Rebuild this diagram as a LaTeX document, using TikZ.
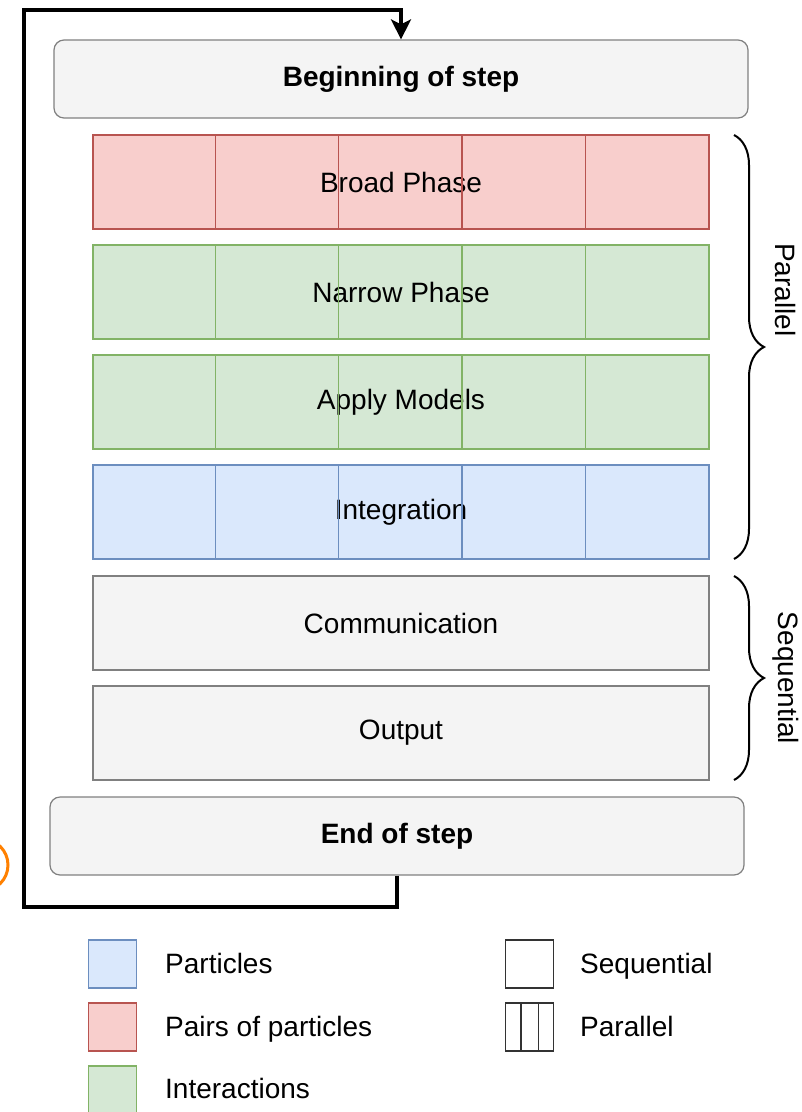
\documentclass[tikz,border=0pt]{standalone}
\usepackage{fontspec}
\setmainfont{Liberation Sans}
\usetikzlibrary{arrows.meta, decorations.pathreplacing}

\definecolor{redf}{HTML}{F8CECC}
\definecolor{redd}{HTML}{B85450}
\definecolor{greenf}{HTML}{D5E8D4}
\definecolor{greend}{HTML}{82B366}
\definecolor{bluef}{HTML}{DAE8FC}
\definecolor{blued}{HTML}{6C8EBF}
\definecolor{grayf}{HTML}{F4F4F4}
\definecolor{grayd}{HTML}{808080}
\definecolor{ringc}{HTML}{FF8000}

\begin{document}
\begin{tikzpicture}[x=1pt, y=-1pt,
    every node/.style={font=\fontsize{28}{34}\selectfont, inner sep=0pt},
    stepbox/.style={draw=grayd, fill=grayf, line width=1.2pt, rounded corners=10pt,
      minimum width=694pt, minimum height=78pt, font=\fontsize{28}{34}\selectfont\bfseries},
    phase/.style={line width=1.2pt, minimum width=616pt, minimum height=94pt},
    loopline/.style={line width=3.5pt, -{Stealth[length=20pt, width=20pt, inset=5pt]}},
    brc/.style={line width=2pt, decorate, decoration={brace, amplitude=30pt}},
    keybox/.style={draw=black!80, line width=1.2pt, minimum width=48pt, minimum height=48pt},
    keytxt/.style={anchor=base west}]
  \useasboundingbox (0,0) rectangle (802,1112);
  \node[stepbox] (begin) at (401,79) {Beginning of step};
  \foreach \name/\lbl/\fc/\dc [count=\i from 0] in {broad/Broad Phase/redf/redd,
      narrow/Narrow Phase/greenf/greend, models/Apply Models/greenf/greend,
      integ/Integration/bluef/blued} {
    \node[phase, fill=\fc, draw=\dc] (\name) at (401,182+110*\i) {\lbl};
    \foreach \k in {1,...,4}
      \draw[\dc, line width=1.2pt] ([xshift=123.2*\k pt]\name.north west)
        -- ([xshift=123.2*\k pt]\name.south west);
  }
  \node[phase, fill=grayf, draw=grayd] (comm) at (401,623) {Communication};
  \node[phase, fill=grayf, draw=grayd] (output) at (401,733) {Output};
  \node[stepbox] (endstep) at (397,836) {End of step};

  \coordinate (lb) at (24,907);
  \coordinate (lt) at (24,10);
  \draw[loopline] (endstep.south) |- (lb) -- (lt) -| (begin.north);

  \draw[brc] (734,135) -- (734,559);
  \draw[brc] (734,576) -- (734,780);
  \node[rotate=-90] (partxt) at (786,290) {Parallel};
  \node[rotate=-90] (seqtxt) at (786,678) {Sequential};

  \draw[ringc, line width=3pt] (-18,865) circle[radius=26];

  \node[keybox, draw=blued, fill=bluef] (kpart) at (112.5,964) {};
  \node[keybox, draw=redd, fill=redf] (kpair) at (112.5,1027) {};
  \node[keybox, draw=greend, fill=greenf] (kint) at (112.5,1090) {};
  \node[keytxt] at (165,973) {Particles};
  \node[keytxt] at (165,1036) {Pairs of particles};
  \node[keytxt] at (165,1098) {Interactions};
  \node[keybox] (kseq) at (529.5,964) {};
  \node[keybox] (kpar) at (529.5,1027) {};
  \draw[black!80, line width=1.2pt] ([xshift=16pt]kpar.north west) -- ([xshift=16pt]kpar.south west)
    ([xshift=-16pt]kpar.north east) -- ([xshift=-16pt]kpar.south east);
  \node[keytxt] at (580,973) {Sequential};
  \node[keytxt] at (580,1036) {Parallel};
\end{tikzpicture}
\end{document}
